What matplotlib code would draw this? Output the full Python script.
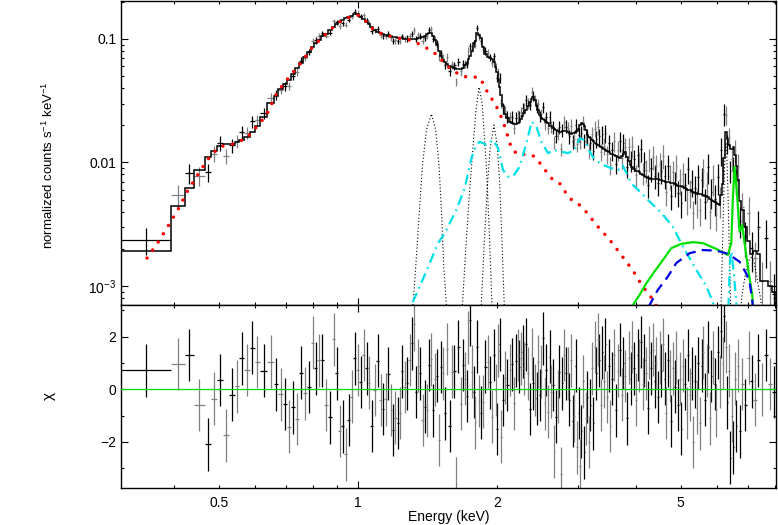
import numpy as np
import matplotlib
matplotlib.use('Agg')
import matplotlib.pyplot as plt
from matplotlib.ticker import LogLocator, NullFormatter

plt.rcParams['font.family'] = ['Liberation Sans', 'DejaVu Sans']
plt.rcParams['mathtext.fontset'] = 'custom'
plt.rcParams['mathtext.rm'] = 'Liberation Sans'
plt.rcParams['mathtext.it'] = 'Liberation Sans:italic'

# spectral bins (keV), lower edges plus the last upper edge
bin_edges = [
    0.307, 0.394, 0.422, 0.441, 0.467, 0.482, 0.495, 0.510, 0.526, 0.541,
    0.554, 0.568, 0.584, 0.598, 0.613, 0.637, 0.658, 0.673, 0.688, 0.702,
    0.716, 0.730, 0.745, 0.760, 0.775, 0.791, 0.805, 0.817, 0.831, 0.846,
    0.861, 0.878, 0.894, 0.907, 0.921, 0.935, 0.949, 0.963, 0.978, 0.992,
    1.007, 1.022, 1.038, 1.051, 1.064, 1.080, 1.096, 1.113, 1.127, 1.141,
    1.157, 1.172, 1.185, 1.199, 1.214, 1.228, 1.242, 1.256, 1.271, 1.287,
    1.302, 1.315, 1.331, 1.346, 1.360, 1.374, 1.389, 1.404, 1.417, 1.431,
    1.447, 1.464, 1.478, 1.492, 1.506, 1.521, 1.536, 1.552, 1.571, 1.591,
    1.611, 1.628, 1.643, 1.661, 1.680, 1.698, 1.714, 1.730, 1.743, 1.756,
    1.777, 1.792, 1.803, 1.823, 1.841, 1.860, 1.880, 1.901, 1.921, 1.940,
    1.960, 1.980, 1.996, 2.008, 2.020, 2.035, 2.055, 2.075, 2.096, 2.121,
    2.143, 2.165, 2.188, 2.210, 2.231, 2.249, 2.266, 2.285, 2.306, 2.327,
    2.348, 2.368, 2.389, 2.410, 2.430, 2.449, 2.467, 2.488, 2.509, 2.527,
    2.549, 2.572, 2.595, 2.614, 2.634, 2.656, 2.676, 2.698, 2.721, 2.742,
    2.762, 2.788, 2.816, 2.841, 2.863, 2.885, 2.908, 2.930, 2.952, 2.974,
    2.996, 3.017, 3.039, 3.061, 3.083, 3.106, 3.130, 3.153, 3.177, 3.201,
    3.226, 3.250, 3.274, 3.299, 3.323, 3.349, 3.374, 3.400, 3.426, 3.453,
    3.480, 3.510, 3.543, 3.577, 3.610, 3.644, 3.678, 3.712, 3.745, 3.778,
    3.812, 3.847, 3.881, 3.915, 3.950, 3.985, 4.020, 4.055, 4.090, 4.125,
    4.160, 4.195, 4.230, 4.265, 4.301, 4.338, 4.375, 4.412, 4.449, 4.486,
    4.523, 4.561, 4.599, 4.638, 4.677, 4.716, 4.755, 4.794, 4.835, 4.877,
    4.919, 4.961, 5.003, 5.045, 5.088, 5.132, 5.176, 5.220, 5.264, 5.308,
    5.352, 5.396, 5.441, 5.487, 5.533, 5.579, 5.625, 5.671, 5.717, 5.763,
    5.810, 5.858, 5.906, 5.954, 6.002, 6.050, 6.098, 6.146, 6.194, 6.242,
    6.290, 6.338, 6.386, 6.434, 6.482, 6.530, 6.578, 6.626, 6.685, 6.760,
    6.855, 6.965, 7.075, 7.190, 7.310, 7.435, 7.575, 7.725, 7.875, 8.030,
]

# folded total model per bin (counts/s/keV)
model_counts = [
    1.93e-3, 4.41e-3, 6.25e-3, 8.65e-3, 1.11e-2, 1.24e-2, 1.37e-2, 1.40e-2, 1.41e-2, 1.46e-2,
    1.52e-2, 1.60e-2, 1.78e-2, 1.98e-2, 2.33e-2, 3.03e-2, 3.45e-2, 3.94e-2, 4.32e-2, 4.66e-2,
    0.0521, 0.0582, 0.0639, 0.0709, 0.0785, 0.0866, 0.0928, 0.0981, 0.1048, 0.1098,
    0.1183, 0.1258, 0.1323, 0.138, 0.1425, 0.147, 0.151, 0.1536, 0.158, 0.158,
    0.151, 0.145, 0.137, 0.132, 0.124, 0.118, 0.114, 0.111, 0.109, 0.107,
    0.106, 0.105, 0.104, 0.103, 0.102, 0.1015, 0.101, 0.1004, 0.100, 0.0994,
    0.0998, 0.1002, 0.1007, 0.1011, 0.102, 0.1038, 0.1063, 0.1098, 0.1124, 0.1128,
    0.1057, 0.0973, 0.0894, 0.080, 0.0722, 0.0676, 0.0651, 0.0628, 0.0604, 0.0590,
    0.0579, 0.0574, 0.0570, 0.0568, 0.0582, 0.0610, 0.0639, 0.0689, 0.0728, 0.0800,
    0.0928, 0.0964, 0.1112, 0.1077, 0.1019, 0.0862, 0.0756, 0.0715, 0.0697, 0.0682,
    0.0651, 0.0598, 0.0541, 0.0466, 0.0409, 0.0352, 0.0287, 0.0249, 0.0229, 0.0214,
    0.0209, 0.0203, 0.0203, 0.0207, 0.0214, 0.0225, 0.0238, 0.0251, 0.0266, 0.0284,
    0.0309, 0.0327, 0.0339, 0.0321, 0.0287, 0.0266, 0.0242, 0.0228, 0.0223, 0.0219,
    0.0214, 0.0207, 0.0199, 0.0196, 0.0189, 0.0187, 0.0183, 0.0180, 0.0178, 0.0178,
    0.0179, 0.0180, 0.0181, 0.0176, 0.0172, 0.0170, 0.0172, 0.0174, 0.0177, 0.0180,
    0.0188, 0.0201, 0.0208, 0.0203, 0.0197, 0.0183, 0.0167, 0.0160, 0.0157, 0.0152,
    0.0148, 0.0143, 0.0141, 0.0139, 0.0136, 0.0134, 0.0131, 0.0129, 0.0125, 0.0123,
    0.0121, 0.0118, 0.0116, 0.0114, 0.0112, 0.0110, 0.0109, 0.0112, 0.0118, 0.0121,
    0.0110, 0.0102, 0.0096, 0.0092, 0.0089, 0.0086, 0.0085, 0.0083, 0.0080, 0.0079,
    0.0077, 0.0076, 0.0075, 0.0075, 0.0074, 0.0074, 0.0073, 0.0073, 0.0073, 0.0072,
    0.0072, 0.0071, 0.0071, 0.0070, 0.0070, 0.0069, 0.0068, 0.0068, 0.0067, 0.0066,
    0.0065, 0.0065, 0.0064, 0.0063, 0.0062, 0.0061, 0.0060, 0.0060, 0.0059, 0.0058,
    0.0057, 0.0057, 0.0056, 0.0055, 0.0055, 0.0054, 0.0053, 0.0053, 0.0052, 0.0051,
    0.0050, 0.0049, 0.0048, 0.0047, 0.0046, 0.0045, 0.0054, 0.0067, 0.0109, 0.0177,
    0.0155, 0.0139, 0.0129, 0.0128, 0.0134, 0.0115, 0.0093, 0.0072, 0.0049, 0.0041,
    0.0030, 0.0023, 0.0018, 0.0019, 0.0018, 0.0011, 0.0011, 0.0010, 0.0009,
]

# residuals (data - model) / error
chi_resid = [
    0.72, 0.96, 1.30, -0.60, -2.09, -0.36, 0.35, -1.75, -0.20, 0.11,
    1.18, 0.73, 1.58, 1.04, 0.70, 1.05, 0.19, -0.19, -0.56, -1.42,
    -0.69, -1.13, 0.63, -0.15, 0.08, 1.77, 0.80, 1.10, 1.10, -0.60,
    -1.07, 1.90, 0.61, -1.59, -1.41, -2.47, -1.17, -0.28, 1.18, 0.73,
    0.27, 1.30, 0.80, 0.25, -1.40, -0.03, 1.09, -0.41, -0.75, -0.38,
    0.59, -0.79, -1.55, -1.08, -1.28, -0.90, 0.68, 0.09, 0.23, 1.11,
    1.75, 2.47, -0.11, 0.90, 0.61, -1.17, -0.66, -0.80, 0.92, 1.14,
    -0.80, 0.38, 0.51, -1.93, 0.85, 0.61, -0.92, 1.53, -1.40, 0.67,
    0.68, -3.59, 1.62, -0.55, 0.92, 0.40, -0.25, 1.96, 2.63, 0.67,
    -0.11, -1.25, 1.62, -0.44, -0.89, -0.47, 0.86, 1.05, 0.26, -1.04,
    1.30, -0.03, -1.51, 1.47, 1.71, -1.80, -0.41, 0.44, 0.16, 0.73,
    0.95, -0.54, 1.08, 1.30, 0.86, 1.17, 1.43, 0.80, 1.71, 0.61,
    -0.75, 1.34, 0.23, -0.03, -0.34, 1.05, -0.22, 0.67, 1.94, -0.53,
    0.73, -0.85, 1.24, -0.09, 0.16, -2.37, -1.04, -0.28, 0.67, -3.20,
    0.23, 1.30, 0.61, 0.6, -0.4, 1.1, -1.2, -1.0, 0.9, -2.2,
    -0.9, -2.9, -1.6, 0.3, -2.4, -1.1, -0.3, -2.0, -0.6, 0.8,
    -1.3, 1.6, 0.6, 1.9, 1.1, -0.6, 1.4, 0.3, 1.7, -0.3,
    0.9, -1.4, 0.4, 1.3, -0.8, 0.7, 1.5, -0.2, 1.0, 0.5,
    -1.1, 1.2, 0.4, 1.6, 0.8, -0.4, 1.3, 0.9, 1.8, 0.2,
    1.1, 0.6, -0.7, 1.4, 0.8, 1.5, 0.3, 1.0, -0.3, 1.2,
    0.7, 1.7, 0.4, -0.9, 1.1, 0.5, -1.2, 0.8, 0.1, 1.2,
    -0.6, 0.4, -1.5, 0.9, 0.2, -0.9, 1.3, -0.2, 0.6, -2.0,
    0.3, -0.7, 1.0, -1.3, 0.9, 1.4, -0.4, 0.7, 1.6, -1.1,
    0.5, 1.2, 0.2, -0.8, 1.4, 0.3, 2.2, 1.0, 2.8, 1.6,
    -0.5, 0.7, -2.6, -1.0, -2.2, 0.4, -1.4, 0.9, -1.6, 0.2,
    -0.6, 1.2, 0.3, -0.4, 1.1, 0.0, 1.3, 0.2, -0.1,
]

# fractional 1-sigma error of each data bin
err_frac = [
    0.25, 0.20, 0.18, 0.18, 0.16, 0.15, 0.14, 0.14, 0.13, 0.12,
    0.12, 0.11, 0.11, 0.10, 0.10, 0.09, 0.09, 0.08, 0.08, 0.08,
    0.07, 0.07, 0.07, 0.06, 0.06, 0.06, 0.06, 0.06, 0.05, 0.05,
    0.05, 0.05, 0.045, 0.05, 0.045, 0.05, 0.045, 0.05, 0.045, 0.045,
    0.045, 0.05, 0.045, 0.05, 0.05, 0.05, 0.05, 0.055, 0.05, 0.055,
    0.055, 0.05, 0.055, 0.055, 0.05, 0.055, 0.055, 0.055, 0.06, 0.055,
    0.055, 0.06, 0.055, 0.06, 0.055, 0.06, 0.055, 0.055, 0.055, 0.055,
    0.06, 0.06, 0.065, 0.065, 0.07, 0.07, 0.07, 0.075, 0.075, 0.075,
    0.075, 0.075, 0.075, 0.075, 0.075, 0.07, 0.07, 0.07, 0.065, 0.065,
    0.06, 0.06, 0.055, 0.06, 0.06, 0.065, 0.07, 0.07, 0.07, 0.07,
    0.075, 0.075, 0.08, 0.085, 0.09, 0.09, 0.10, 0.10, 0.11, 0.11,
    0.11, 0.11, 0.11, 0.11, 0.11, 0.10, 0.10, 0.10, 0.10, 0.095,
    0.09, 0.09, 0.09, 0.09, 0.095, 0.10, 0.10, 0.105, 0.105, 0.11,
    0.11, 0.11, 0.115, 0.115, 0.115, 0.12, 0.12, 0.12, 0.12, 0.12,
    0.12, 0.12, 0.12, 0.125, 0.13, 0.13, 0.13, 0.13, 0.13, 0.13,
    0.13, 0.125, 0.12, 0.125, 0.13, 0.13, 0.14, 0.14, 0.14, 0.14,
    0.15, 0.15, 0.15, 0.15, 0.15, 0.16, 0.16, 0.16, 0.16, 0.17,
    0.17, 0.17, 0.18, 0.18, 0.18, 0.18, 0.18, 0.18, 0.18, 0.18,
    0.18, 0.19, 0.19, 0.20, 0.20, 0.20, 0.20, 0.20, 0.21, 0.21,
    0.21, 0.21, 0.21, 0.21, 0.22, 0.22, 0.22, 0.22, 0.22, 0.22,
    0.22, 0.22, 0.22, 0.23, 0.23, 0.23, 0.23, 0.23, 0.23, 0.24,
    0.24, 0.24, 0.24, 0.24, 0.25, 0.25, 0.25, 0.25, 0.25, 0.25,
    0.26, 0.26, 0.26, 0.26, 0.26, 0.26, 0.27, 0.27, 0.27, 0.27,
    0.27, 0.28, 0.28, 0.28, 0.28, 0.28, 0.26, 0.24, 0.20, 0.17,
    0.18, 0.19, 0.20, 0.20, 0.20, 0.21, 0.23, 0.25, 0.28, 0.30,
    0.32, 0.34, 0.36, 0.35, 0.36, 0.42, 0.42, 0.44, 0.45,
]

# model components
red_e = [0.3495, 0.3695, 0.3885, 0.4083, 0.4257, 0.4475, 0.4706, 0.4862, 0.5028, 0.5372,
         0.5741, 0.6136, 0.6343, 0.668, 0.702, 0.756, 0.799, 0.870, 0.914, 0.961,
         1.0, 1.044, 1.079, 1.134, 1.213, 1.283, 1.348, 1.411, 1.468, 1.517,
         1.582, 1.635, 1.696, 1.776, 1.843, 1.884, 1.924, 1.980, 2.030, 2.081,
         2.152, 2.224, 2.318, 2.415, 2.497, 2.623, 2.735, 2.874, 3.021, 3.12,
         3.31, 3.51, 3.72, 3.94, 4.14, 4.29, 4.42, 4.6]
red_val = [1.68e-3, 2.26e-3, 3.06e-3, 4.18e-3, 5.69e-3, 7.67e-3, 1.03e-2, 1.19e-2, 1.34e-2, 1.41e-2,
           1.57e-2, 2.08e-2, 2.42e-2, 3.67e-2, 4.66e-2, 6.55e-2, 8.66e-2, 0.118, 0.138, 0.151,
           0.156, 0.138, 0.120, 0.109, 0.102, 0.0994, 0.0923, 0.0841, 0.0766, 0.0676,
           0.0579, 0.0533, 0.0495, 0.0495, 0.0481, 0.0406, 0.0352, 0.0302, 0.0250, 0.0195,
           0.0130, 0.0115, 0.0117, 0.0112, 0.00955, 0.00747, 0.00679, 0.00513, 0.00453, 0.00400,
           0.00302, 0.00237, 0.00178, 0.00134, 0.000987, 0.00084, 0.0007, 0.00055]

cyan_e = [1.28, 1.307, 1.362, 1.432, 1.492, 1.543, 1.635, 1.704, 1.762, 1.807,
          1.837, 1.899, 1.963, 2.013, 2.063, 2.115, 2.169, 2.242, 2.318, 2.380,
          2.437, 2.498, 2.582, 2.669, 2.760, 2.853, 2.950, 3.024, 3.10, 3.18,
          3.26, 3.40, 3.54, 3.69, 3.75, 3.82, 3.91, 4.08, 4.25, 4.55,
          4.81, 5.06, 5.36, 5.69, 5.87, 5.95, 6.10, 6.25, 6.32, 6.40,
          6.45, 6.53, 6.61, 6.71]
cyan_val = [5e-4, 7e-4, 9.9e-4, 1.53e-3, 2.22e-3, 2.67e-3, 4.12e-3, 6.18e-3, 1.08e-2, 1.39e-2,
            1.47e-2, 1.39e-2, 1.52e-2, 1.31e-2, 8.7e-3, 7.67e-3, 7.7e-3, 9.25e-3, 1.43e-2, 2.14e-2,
            1.95e-2, 1.47e-2, 1.19e-2, 1.26e-2, 1.22e-2, 1.19e-2, 1.26e-2, 1.57e-2, 1.52e-2, 1.22e-2,
            1.05e-2, 9.55e-3, 8.98e-3, 8.7e-3, 9.4e-3, 8.18e-3, 6.79e-3, 5.81e-3, 4.97e-3, 3.88e-3,
            3.02e-3, 2.08e-3, 1.43e-3, 9.87e-4, 7.46e-4, 5.5e-4, 3.5e-4, 3e-4, 4e-4, 1.6e-3,
            1.9e-3, 1.2e-3, 7e-4, 3e-4]

green_e = [3.85, 3.944, 4.077, 4.216, 4.394, 4.580, 4.775, 5.018, 5.318, 5.588, 5.927,
           6.229, 6.332, 6.44, 6.49, 6.546, 6.62, 6.71, 6.80, 6.915, 7.03, 7.15, 7.2]
green_val = [5e-4, 7e-4, 8.45e-4, 1.05e-3, 1.31e-3, 1.62e-3, 2.02e-3, 2.19e-3, 2.26e-3, 2.22e-3, 2.02e-3,
             1.84e-3, 1.78e-3, 2.22e-3, 4.97e-3, 9.2e-3, 6.0e-3, 2.75e-3, 3.1e-3, 1.95e-3, 1.26e-3, 8.45e-4, 6e-4]

blue_e = [4.20, 4.285, 4.467, 4.695, 4.896, 5.232, 5.588, 5.975, 6.332, 6.71, 6.94, 7.056, 7.15, 7.2]
blue_val = [5e-4, 7e-4, 9.3e-4, 1.19e-3, 1.53e-3, 1.84e-3, 1.95e-3, 1.93e-3, 1.82e-3, 1.57e-3,
            1.26e-3, 1.08e-3, 7.6e-4, 6e-4]

# gaussian lines (dotted)
gauss_a_e = [1.30, 1.317, 1.335, 1.357, 1.380, 1.408, 1.444, 1.475, 1.500, 1.520, 1.535, 1.556, 1.575]
gauss_a_val = [4e-4, 7e-4, 1.43e-3, 3.64e-3, 9.25e-3, 1.83e-2, 2.47e-2, 1.83e-2, 9.25e-3, 3.64e-3, 1.43e-3, 7e-4, 4e-4]
gauss_b_e = [1.67, 1.685, 1.713, 1.741, 1.771, 1.800, 1.830, 1.859, 1.899, 1.924, 1.947, 1.96]
gauss_b_val = [4e-4, 7e-4, 1.95e-3, 4.97e-3, 1.15e-2, 2.5e-2, 4.07e-2, 3.0e-2, 9.4e-3, 3.1e-3, 9.3e-4, 5e-4]
gauss_c_e = [1.84, 1.851, 1.878, 1.906, 1.935, 1.972, 2.004, 2.030, 2.052, 2.076, 2.09]
gauss_c_val = [4e-4, 7e-4, 2.13e-3, 6.0e-3, 1.31e-2, 2.01e-2, 1.39e-2, 6.6e-3, 2.34e-3, 7e-4, 4e-4]
gauss_d_e = [6.08, 6.12, 6.16, 6.20, 6.24, 6.27, 6.30, 6.34, 6.38, 6.42, 6.46]
gauss_d_val = [4e-4, 7e-4, 1.8e-3, 5.0e-3, 1.15e-2, 1.45e-2, 1.15e-2, 5.0e-3, 1.8e-3, 7e-4, 4e-4]
gauss_f_e = [6.70, 6.80, 6.92, 7.05, 7.12, 7.22, 7.34, 7.45, 7.55]
gauss_f_val = [5e-4, 8.5e-4, 1.3e-3, 1.65e-3, 1.7e-3, 1.55e-3, 1.1e-3, 8e-4, 5e-4]

edges = np.array(bin_edges)
lo, hi = edges[:-1], edges[1:]
cen = np.sqrt(lo * hi)
model = np.array(model_counts)
chi = np.array(chi_resid)
frac = np.array(err_frac)
data = model / (1 - chi * frac)
data_err = frac * data

fig = plt.figure(figsize=(7.78, 5.25), dpi=100)
W, H = 778, 525
ax1 = fig.add_axes([121 / W, 1 - 305 / H, 655 / W, 304 / H])
ax2 = fig.add_axes([121 / W, 1 - 488 / H, 655 / W, 183 / H], sharex=ax1)

# two detectors: black and grey
for k, col in [(0, 'black'), (1, '0.5')]:
    m = np.arange(len(cen)) % 2 == k
    xe = [cen[m] - lo[m], hi[m] - cen[m]]
    ax1.errorbar(cen[m], data[m], yerr=data_err[m], xerr=xe, fmt='none',
                 ecolor=col, elinewidth=0.9, capsize=0, zorder=2)
    ax2.errorbar(cen[m], chi[m], yerr=np.ones(m.sum()), xerr=xe, fmt='none',
                 ecolor=col, elinewidth=0.9, capsize=0, zorder=2)

ax1.stairs(model, edges, color='black', lw=1.1, zorder=3)

dots = dict(color='black', lw=0.8, ls=(0, (1, 2)), zorder=3)
for ge, gv in [(gauss_a_e, gauss_a_val), (gauss_b_e, gauss_b_val), (gauss_c_e, gauss_c_val),
               (gauss_d_e, gauss_d_val), (gauss_f_e, gauss_f_val)]:
    ax1.plot(ge, gv, **dots)

ax1.plot(red_e, red_val, color='red', lw=2.5, ls=(0, (0.01, 2.8)),
         dash_capstyle='round', zorder=4)
ax1.plot(cyan_e, cyan_val, color='#00e0e8', lw=1.6, ls=(0, (4.5, 2.2, 0.8, 2.2)), zorder=4)
ax1.plot(green_e, green_val, color='#00e000', lw=1.6, zorder=4)
ax1.plot(blue_e, blue_val, color='#0000e8', lw=1.6, ls=(0, (4.5, 2.8)), zorder=4)

ax2.axhline(0, color='#00e000', lw=0.9, zorder=3)

ax1.set_xscale('log')
ax1.set_yscale('log')
ax1.set_xlim(0.307, 8.05)
ax1.set_ylim(7.0e-4, 0.203)
ax2.set_ylim(-3.75, 3.2)

ytick_vals = [1e-3, 1e-2, 0.1]
ytick_labels = ['$10^{-3}$', '0.01', '0.1']
ax1.set_yticks(ytick_vals, ytick_labels)
ax1.yaxis.set_minor_locator(LogLocator(base=10, subs=np.arange(2, 10)))
ax1.yaxis.set_minor_formatter(NullFormatter())

xmajor = [1]
xminor = [0.4, 0.5, 0.6, 0.7, 0.8, 0.9, 2, 3, 4, 5, 6, 7, 8]
xminor_labels = ['', '0.5', '', '', '', '', '2', '', '', '5', '', '', '']
ax2.set_xticks(xmajor, ['1'])
ax2.set_xticks(xminor, xminor_labels, minor=True)

ax2.set_yticks([-2, 0, 2], ['\u22122', '0', '2'])
ax2.set_yticks([-3, -1, 1, 3], minor=True)

for ax in (ax1, ax2):
    ax.tick_params(which='both', direction='in', top=True, right=True,
                   labelsize=10, width=0.8)
    ax.tick_params(which='major', length=5)
    ax.tick_params(which='minor', length=2.5)
    for s in ax.spines.values():
        s.set_linewidth(1.0)
ax1.tick_params(which='both', labelbottom=False)
ax2.tick_params(axis='x', which='both', pad=6)

ax1.set_ylabel('normalized counts s$^{-1}$ keV$^{-1}$', fontsize=9.5)
ax1.yaxis.set_label_coords(-0.099, 0.46)
ax2.set_ylabel('\u03c7', fontsize=11)
ax2.yaxis.set_label_coords(-0.099, 0.5)
ax2.set_xlabel('Energy (keV)', fontsize=10)
ax2.xaxis.set_label_coords(0.5, -0.12)

plt.savefig('out.png', dpi=100)
